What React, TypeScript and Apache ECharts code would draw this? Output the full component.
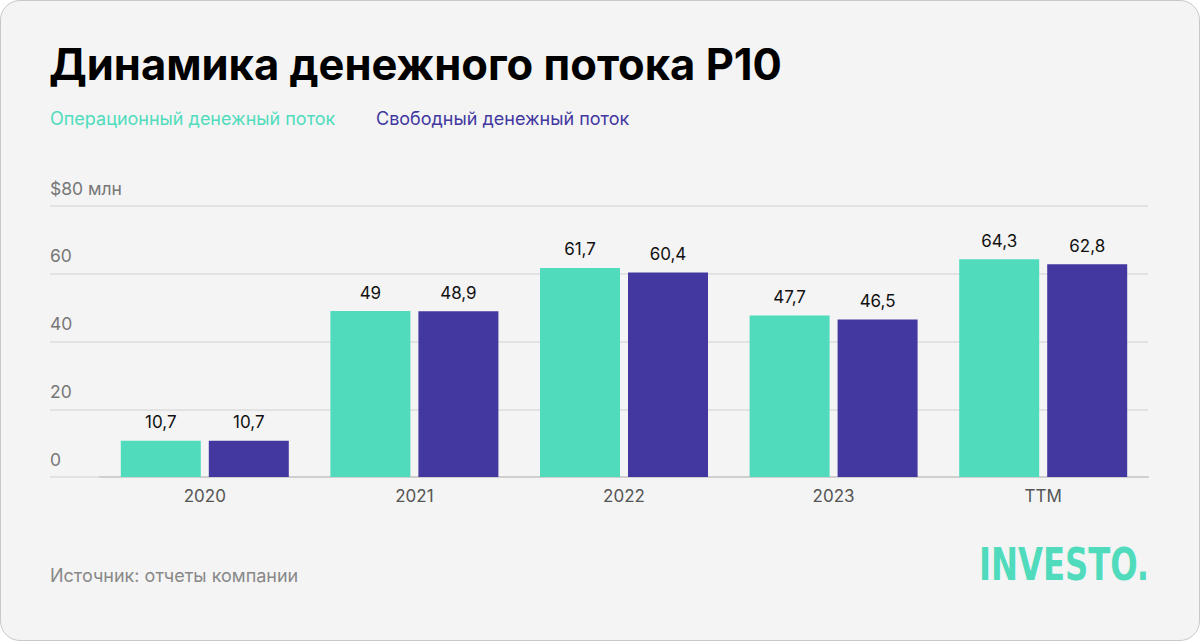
import React, { useEffect, useRef } from "react";
import * as echarts from "echarts";

const categories = ["2020", "2021", "2022", "2023", "TTM"];
const operatingCF = [10.7, 49, 61.7, 47.7, 64.3];
const freeCF = [10.7, 48.9, 60.4, 46.5, 62.8];
const seriesNames = ["Операционный денежный поток", "Свободный денежный поток"];
const yTicks = [0, 20, 40, 60, 80];

const GREEN = "#50DCBC";
const PURPLE = "#4238A0";
const FONT = "Inter, 'Noto Sans', sans-serif";

const fmt = (v: number) => String(v).replace(".", ",");

export default function App() {
  const ref = useRef<HTMLDivElement>(null);
  useEffect(() => {
    if (!ref.current) return;
    const chart = echarts.init(ref.current, undefined, { renderer: "svg" });
    chart.setOption({
      animation: false,
      backgroundColor: "transparent",
      textStyle: { fontFamily: FONT },
      grid: [
        { left: 50, right: 52, top: 206, height: 271 },
        { left: 100, right: 52, top: 206, height: 271 },
      ],
      xAxis: [
        { gridIndex: 0, type: "category", data: categories, show: false },
        {
          gridIndex: 1,
          type: "category",
          data: categories,
          axisLine: { lineStyle: { color: "#cfcfcf", width: 2 } },
          axisTick: { show: false },
          axisLabel: { color: "#555", fontSize: 17, margin: 10, fontFamily: FONT },
        },
      ],
      yAxis: [
        {
          gridIndex: 0,
          type: "value",
          min: 0,
          max: 80,
          interval: 20,
          axisLine: { show: false },
          axisTick: { show: false },
          splitLine: { lineStyle: { color: "#e2e2e2", width: 2 } },
          axisLabel: {
            inside: true,
            margin: 0,
            verticalAlign: "bottom",
            padding: [0, 0, 9, 0],
            color: "#777",
            fontSize: 17.5,
            fontFamily: FONT,
            formatter: (v: number) => (v === yTicks[yTicks.length - 1] ? `$${v} млн` : String(v)),
          },
        },
        { gridIndex: 1, type: "value", min: 0, max: 80, interval: 20, show: false, splitLine: { show: false } },
      ],
      series: [
        {
          name: seriesNames[0],
          type: "bar",
          xAxisIndex: 1,
          yAxisIndex: 1,
          data: operatingCF,
          barWidth: 80,
          barGap: "10%",
          itemStyle: { color: GREEN },
          label: {
            show: true,
            position: "top",
            distance: 10,
            color: "#111",
            fontSize: 17,
            fontFamily: FONT,
            formatter: (p: any) => fmt(p.value),
          },
        },
        {
          name: seriesNames[1],
          type: "bar",
          xAxisIndex: 1,
          yAxisIndex: 1,
          data: freeCF,
          barWidth: 80,
          barGap: "10%",
          itemStyle: { color: PURPLE },
          label: {
            show: true,
            position: "top",
            distance: 10,
            color: "#111",
            fontSize: 17,
            fontFamily: FONT,
            formatter: (p: any) => fmt(p.value),
          },
        },
      ],
      graphic: [
        {
          type: "text",
          left: 49,
          top: 42,
          style: {
            text: "Динамика денежного потока Р10",
            fill: "#000",
            font: `bold 43.5px ${FONT}`,
          },
        },
        {
          type: "text",
          left: 50,
          top: 109,
          style: { text: seriesNames[0], fill: GREEN, font: `18px ${FONT}` },
        },
        {
          type: "text",
          left: 376,
          top: 109,
          style: { text: seriesNames[1], fill: PURPLE, font: `18px ${FONT}` },
        },
        {
          type: "text",
          left: 50,
          top: 566,
          style: { text: "Источник: отчеты компании", fill: "#888", font: `18px ${FONT}` },
        },
        {
          type: "text",
          x: 979,
          y: 543,
          scaleX: 0.815,
          style: {
            text: "INVESTO.",
            fill: GREEN,
            font: `bold 44px 'DejaVu Sans Condensed', 'DejaVu Sans', sans-serif`,
          },
        },
      ],
    });
    return () => chart.dispose();
  }, []);

  return (
    <div
      style={{
        position: "fixed",
        left: 0,
        top: 0,
        width: 1200,
        height: 641,
        boxSizing: "border-box",
        border: "1px solid #c8c8c8",
        borderRadius: 20,
        background: "#f4f4f4",
        overflow: "hidden",
      }}
    >
      <div ref={ref} style={{ position: "absolute", left: -1, top: -1, width: 1200, height: 641 }} />
    </div>
  );
}
